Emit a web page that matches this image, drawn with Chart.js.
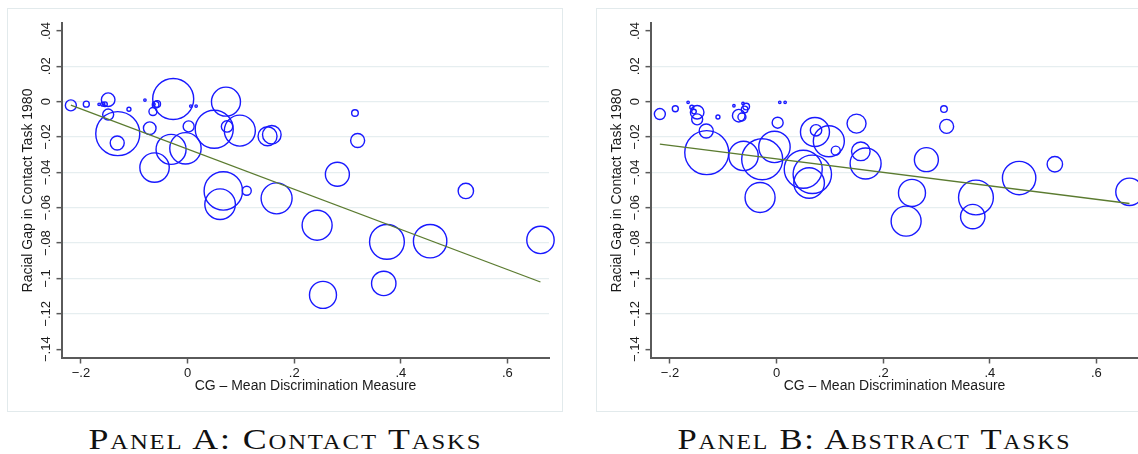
<!DOCTYPE html>
<html><head><meta charset="utf-8">
<script src="https://cdn.jsdelivr.net/npm/chart.js@4.4.1/dist/chart.umd.min.js"></script>
<style>
html,body{margin:0;padding:0;background:#fff;width:1138px;height:454px;overflow:hidden;position:relative}
.frame{position:absolute;top:8px;width:556px;height:404px;border:1px solid #e2eaec;box-sizing:border-box}
.wrap{position:absolute;top:8px;width:556px;height:404px}
.ptitle{position:absolute;top:423px;width:556px;text-align:center;font-family:"Liberation Serif","DejaVu Serif",serif;font-variant:small-caps;font-size:29px;line-height:32px;color:#111;white-space:nowrap;letter-spacing:1.5px}
.ptitle span{display:inline-block;transform-origin:center center}
</style></head><body>
<div class="frame" style="left:7px"></div>
<div class="frame" style="left:596px"></div>
<div class="wrap" style="left:7px"><canvas id="cA" width="556" height="404"></canvas></div>
<div class="wrap" style="left:596px"><canvas id="cB" width="556" height="404"></canvas></div>
<div class="ptitle" style="left:7px"><span>Panel A: Contact Tasks</span></div>
<div class="ptitle" style="left:596px"><span>Panel B: Abstract Tasks</span></div>
<script>
// CG - mean discrimination measure (x), bubble radius (weight), racial gaps
const xDisc = [-0.219,-0.190,-0.166,-0.159,-0.155,-0.149,-0.149,-0.131,-0.132,-0.110,-0.080,-0.071,-0.065,-0.063,-0.060,-0.057,-0.062,-0.027,-0.031,-0.004,0.002,0.006,0.016,0.050,0.072,0.074,0.098,0.150,0.158,0.067,0.061,0.111,0.167,0.314,0.319,0.281,0.522,0.243,0.254,0.374,0.368,0.455,0.662];
const bubbleR = [5.5,3,1.2,2,2.3,6.8,5.5,22,7,2,1.2,6.3,4,1.2,3.3,3.3,14.7,20.5,15,15.7,5.5,1.2,1.2,19,14.5,5.7,15.5,9.5,9.3,19.2,15.3,4.5,15.5,3.3,7,12,7.7,15,13.5,17.4,12.2,16.7,13.7];
const gapContact = [-0.0021,-0.0014,-0.0015,-0.0014,-0.0014,0.0011,-0.0073,-0.0181,-0.0234,-0.0043,0.0009,-0.0150,-0.0056,-0.0015,-0.0017,-0.0013,-0.0373,0.0015,-0.0270,-0.0264,-0.0140,-0.0025,-0.0025,-0.0156,0.0000,-0.0140,-0.0164,-0.0196,-0.0187,-0.0505,-0.0580,-0.0504,-0.0547,-0.0064,-0.0220,-0.0411,-0.0505,-0.0699,-0.1093,-0.0793,-0.1028,-0.0789,-0.0782];
const gapAbstract = [-0.0070,-0.0040,-0.0004,-0.0032,-0.0056,-0.0060,-0.0100,-0.0288,-0.0166,-0.0087,-0.0023,-0.0079,-0.0087,-0.0010,-0.0044,-0.0028,-0.0307,-0.0326,-0.0542,-0.0256,-0.0119,-0.0004,-0.0004,-0.0382,-0.0172,-0.0162,-0.0224,-0.0124,-0.0281,-0.0411,-0.0460,-0.0277,-0.0350,-0.0042,-0.0140,-0.0328,-0.0354,-0.0676,-0.0516,-0.0542,-0.0650,-0.0432,-0.0510];
const fitX = [-0.219, 0.662];
const fitContactY = [-0.0019, -0.1020];
const fitAbstractY = [-0.0240, -0.0576];
const yTicks = [0.04,0.02,0,-0.02,-0.04,-0.06,-0.08,-0.1,-0.12,-0.14];
const yTickLabels = ['.04','.02','0','\u2212.02','\u2212.04','\u2212.06','\u2212.08','\u2212.1','\u2212.12','\u2212.14'];
const xTicks = [-0.2,0,0.2,0.4,0.6];
const xTickLabels = ['\u2212.2','0','.2','.4','.6'];
const yTitle = 'Racial Gap in Contact Task 1980';
const xTitle = 'CG \u2013 Mean Discrimination Measure';

const SANS = '"Liberation Sans", Arial, sans-serif';
const AXIS = '#5a5a5a';
const GRID = '#e6eef0';

const yLabelPlugin = {
  id: 'yLabels',
  afterDraw(chart) {
    const s = chart.scales.y, ctx = chart.ctx;
    ctx.save();
    ctx.fillStyle = '#1a1a1a';
    ctx.font = '13px ' + SANS;
    ctx.textAlign = 'center';
    ctx.textBaseline = 'alphabetic';
    yTicks.forEach((v, i) => {
      ctx.save();
      ctx.translate(s.right - 12, s.getPixelForValue(v));
      ctx.rotate(-Math.PI / 2);
      ctx.fillText(yTickLabels[i], 0, 0);
      ctx.restore();
    });
    ctx.restore();
  }
};

function buildPanel(id, gaps, fitY) {
  const pts = xDisc.map((x, i) => ({x: x, y: gaps[i], r: bubbleR[i]}));
  new Chart(document.getElementById(id), {
    type: 'bubble',
    data: {
      datasets: [
        {type: 'line', data: fitX.map((x, i) => ({x: x, y: fitY[i]})), borderColor: '#5b7b30', borderWidth: 1.3, pointRadius: 0, fill: false, tension: 0},
        {data: pts, borderColor: 'rgb(25,25,255)', backgroundColor: 'rgba(0,0,0,0)', borderWidth: 1.4, hoverRadius: 0, clip: false}
      ]
    },
    options: {
      responsive: false, animation: false, devicePixelRatio: 1,
      layout: {autoPadding: false, padding: {left: 0, top: 15, right: 14, bottom: 17}},
      plugins: {legend: {display: false}, tooltip: {enabled: false}},
      scales: {
        x: {
          type: 'linear', min: -0.2356, max: 0.678,
          afterBuildTicks: s => { s.ticks = xTicks.map(v => ({value: v})); },
          afterFit: s => { s.height = 37; },
          ticks: {autoSkip: false, maxRotation: 0, minRotation: 0, padding: 2, color: '#1a1a1a', font: {family: SANS, size: 13},
            callback: (v, i) => xTickLabels[i]},
          grid: {drawOnChartArea: false, drawTicks: true, tickLength: 5.5, tickColor: AXIS, tickWidth: 1.5},
          border: {display: true, color: AXIS, width: 2},
          title: {display: true, text: xTitle, color: '#1a1a1a', font: {family: SANS, size: 14}, padding: {top: 0, bottom: 0}}
        },
        y: {
          type: 'linear', min: -0.145, max: 0.0445,
          afterBuildTicks: s => { s.ticks = yTicks.map(v => ({value: v})); },
          afterFit: s => { s.width = 55; },
          ticks: {display: false},
          grid: {
            color: c => (c.index === 0 || c.index === yTicks.length - 1) ? 'rgba(0,0,0,0)' : GRID,
            lineWidth: 1.3, drawTicks: true, tickLength: 5.5, tickColor: AXIS, tickWidth: 1.5
          },
          border: {display: true, color: AXIS, width: 2},
          title: {display: true, text: yTitle, color: '#1a1a1a', font: {family: SANS, size: 14}, padding: {top: 13, bottom: 0}}
        }
      }
    },
    plugins: [yLabelPlugin]
  });
}
buildPanel('cA', gapContact, fitContactY);
buildPanel('cB', gapAbstract, fitAbstractY);

// widen the serif small-caps titles to the reference's span
document.querySelectorAll('.ptitle span').forEach(sp => {
  const w = sp.getBoundingClientRect().width;
  sp.style.transform = 'scaleX(' + (394 / w).toFixed(3) + ')';
});
</script>
</body></html>
